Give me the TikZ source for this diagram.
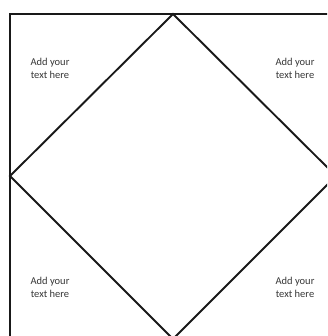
\documentclass[tikz,border=0pt]{standalone}
\usepackage{fontspec}
\setmainfont{Carlito}
\usepackage{xcolor}
\usetikzlibrary{positioning}
\definecolor{frameline}{RGB}{25,25,25}
\definecolor{notetext}{RGB}{55,55,55}

\begin{document}
\begin{tikzpicture}[x=1pt, y=-1pt,
    edge/.style={line width=1.9pt, draw=frameline},
    note/.style={font=\fontsize{10.5}{13}\selectfont, text=notetext, align=center}]
  % Page
  \useasboundingbox (0, 0) rectangle (327, 336);
  \clip (0, 0) rectangle (327, 336);
  \fill[white] (0, 0) rectangle (327, 336);

  % Corner points
  \coordinate (topright) at (340, 14);
  \coordinate (corner) at (10, 14);
  \coordinate (botleft) at (10, 340);

  % Diamond vertices
  \coordinate (dtop) at (173, 14);
  \coordinate (dleft) at (10, 176);
  \coordinate (dright) at (336, 176);
  \coordinate (dbot) at (173, 339);

  % Frame
  \draw[edge] (topright) -- (corner) -- (botleft);

  % Diamond
  \draw[edge, line join=miter] (dtop) -- (dright) -- (dbot) -- (dleft) -- cycle;

  % Notes
  \node[note] (nw) at (50, 68) {Add your\\text here};
  \node[note] (ne) at (295, 68) {Add your\\text here};
  \node[note] (sw) at (50, 287) {Add your\\text here};
  \node[note] (se) at (295, 287) {Add your\\text here};
\end{tikzpicture}
\end{document}
